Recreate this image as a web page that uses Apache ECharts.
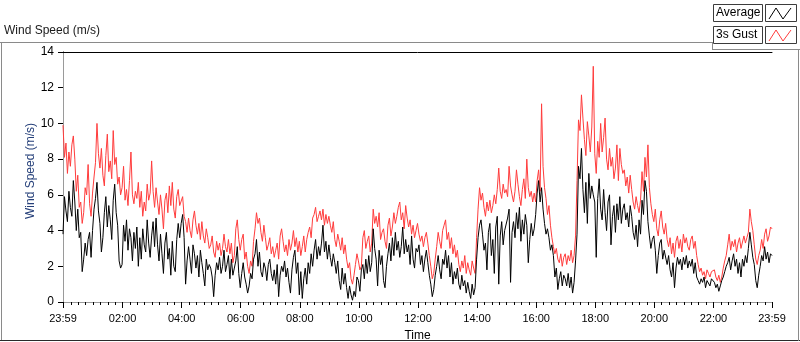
<!DOCTYPE html>
<html>
<head>
<meta charset="utf-8">
<script src="https://cdn.jsdelivr.net/npm/echarts@6/dist/echarts.min.js"></script>
<style>
html,body{margin:0;padding:0;background:#fff;}
#chart{width:800px;height:342px;}
</style>
</head>
<body>
<div id="chart"></div>
<script>
// ---- data (sampled every 3 minutes, starting 23:59) ----
const stepMinutes = 3;
const seriesNames = ['Average', '3s Gust'];
const avgSpeed = [
3.8,5.9,5.1,4.5,6.2,5.3,4.8,6.8,5.6,4.0,5.2,3.6,3.9,1.7,2.4,3.3,2.6,3.5,3.9,2.5,
4.0,5.2,5.8,6.7,5.1,4.4,2.8,3.6,5.0,5.9,4.2,5.4,4.6,3.5,5.7,6.6,5.0,4.3,2.3,1.9,
2.1,4.3,3.4,4.6,2.9,4.1,3.6,2.3,3.9,3.0,4.2,2.0,3.6,2.4,4.1,3.2,2.8,4.6,3.3,2.5,
3.7,4.5,3.1,4.7,3.2,2.3,3.8,2.7,1.6,3.3,3.9,2.4,3.0,1.5,3.4,2.0,1.7,3.5,4.4,3.6,
4.4,4.9,3.6,1.0,2.3,3.1,2.4,1.6,3.2,2.7,1.9,2.6,1.4,2.9,2.2,1.6,0.9,2.4,1.8,2.1,
1.9,1.4,0.3,1.5,2.2,1.8,2.5,1.6,2.0,2.9,1.7,2.1,2.6,1.3,2.4,1.5,1.9,2.3,3.1,1.6,
0.8,1.6,2.2,1.4,1.0,0.5,0.9,1.6,1.3,2.4,2.7,3.5,2.0,2.8,1.7,1.4,2.2,1.9,1.2,2.1,
2.4,1.6,1.2,1.8,1.0,2.1,0.3,1.5,2.0,1.7,2.3,1.4,1.9,1.1,0.5,1.8,2.5,2.9,1.6,2.2,
0.4,1.7,0.2,1.3,1.9,1.0,2.2,1.6,2.7,2.0,2.9,3.5,2.4,3.1,2.6,3.3,4.3,2.8,3.4,2.4,
3.2,2.5,2.0,2.7,2.2,1.6,2.3,1.2,0.7,1.9,1.0,1.6,0.8,0.2,0.9,0.4,0.1,0.6,0.3,1.4,
1.2,0.6,1.8,2.1,1.3,2.4,1.6,2.6,1.7,2.2,4.1,3.0,2.4,0.9,2.9,2.1,2.6,1.2,0.8,2.0,
2.7,3.3,2.3,3.6,2.6,3.9,2.9,3.4,2.5,3.1,4.2,2.7,3.5,2.8,3.2,2.1,3.7,2.4,1.9,3.0,
2.8,3.2,2.1,2.6,1.7,2.4,2.9,2.2,1.5,1.0,0.3,0.7,1.5,2.0,2.6,1.8,1.3,2.4,2.1,2.9,
1.9,2.6,1.4,2.2,1.0,1.7,1.3,1.9,1.0,0.7,1.5,0.9,1.2,0.5,1.1,0.6,0.2,1.0,0.4,0.8,
2.4,3.6,4.3,4.6,3.8,2.9,3.3,1.8,3.9,4.4,2.6,3.5,1.6,4.2,4.8,1.0,3.7,4.5,3.2,4.0,
4.0,4.7,5.2,1.1,3.9,4.5,3.6,5.0,4.1,5.3,3.4,4.6,3.8,4.9,4.3,2.2,3.5,4.4,3.7,4.1,
4.9,6.1,6.8,5.6,6.4,5.2,4.4,3.8,4.1,3.6,2.9,3.2,2.6,1.4,1.9,0.7,1.3,1.7,0.9,1.5,
1.3,0.9,1.6,0.8,1.4,0.5,1.1,2.3,3.8,7.6,6.9,8.6,6.3,5.0,6.7,4.4,7.2,5.8,6.5,6.0,
5.6,2.5,5.8,6.9,5.2,4.6,6.3,5.0,4.0,5.6,6.0,3.2,4.8,5.4,3.9,5.5,4.6,5.9,4.4,5.2,
5.5,4.6,5.0,4.2,5.4,4.8,3.9,3.5,4.3,3.1,4.6,3.8,5.7,4.9,6.8,6.2,4.5,3.7,3.0,3.5,
3.7,2.9,1.6,2.6,3.3,3.5,2.4,2.9,3.0,2.1,2.6,1.8,1.4,2.2,0.8,1.9,2.5,2.1,2.4,1.8,
2.5,2.1,2.6,1.9,2.3,2.0,2.4,1.6,2.2,1.4,1.2,1.0,1.3,1.1,1.4,0.8,1.2,1.3,0.9,1.3,
1.3,1.1,0.8,1.0,0.6,0.9,1.2,1.4,1.7,2.0,2.2,2.5,1.8,2.3,2.7,2.0,2.4,1.6,2.2,1.4,
2.4,2.0,2.6,2.2,3.0,3.9,3.2,2.5,2.1,1.2,0.8,1.5,2.0,2.6,2.3,3.1,2.4,2.8,2.2,2.7,
2.6
];
const gustSpeed = [
9.9,8.1,8.9,7.2,8.4,7.6,8.8,9.3,8.0,6.2,7.1,5.3,5.6,4.4,5.0,6.4,6.0,7.7,5.5,4.8,
6.1,7.0,7.8,10.0,8.3,7.5,8.6,7.1,6.5,8.2,9.4,7.3,7.9,6.9,9.6,7.7,8.1,6.6,7.0,6.0,
6.4,7.6,5.7,6.3,5.4,6.8,8.4,6.0,5.5,6.2,5.8,6.7,5.3,6.2,4.8,5.6,5.1,6.6,5.7,6.1,
7.9,6.2,5.3,6.4,5.6,4.9,6.0,5.2,4.1,5.7,6.1,5.0,6.5,5.4,6.7,5.2,4.7,5.9,6.3,5.4,
5.5,5.9,4.8,4.5,3.9,4.7,4.0,3.6,4.6,5.1,4.3,3.8,4.4,3.5,4.5,3.7,3.3,4.1,3.6,3.0,
3.2,3.7,2.8,2.5,3.4,2.9,3.3,2.6,3.0,3.8,3.1,2.8,3.5,2.7,3.3,2.2,2.6,4.1,4.6,3.5,
2.9,3.5,3.8,2.4,2.8,2.0,1.6,2.3,2.0,3.4,4.1,5.0,4.4,4.7,3.9,3.4,4.3,3.6,2.9,3.2,
3.6,2.7,3.1,2.5,2.9,3.3,2.4,3.7,4.1,3.4,2.8,3.2,2.6,3.5,2.9,3.3,4.0,3.1,3.6,2.8,
3.4,2.6,3.1,3.7,2.8,3.5,3.9,4.2,3.6,4.7,4.9,5.3,4.5,4.8,5.1,4.6,5.2,4.3,4.9,4.4,
4.8,4.3,3.9,4.5,3.5,3.1,3.8,3.4,2.9,3.6,2.7,3.2,2.4,1.9,2.2,1.3,1.0,1.5,2.1,2.7,
2.3,1.8,2.0,3.6,4.0,3.0,3.4,3.7,2.8,3.3,5.2,4.4,4.8,4.2,5.0,3.5,3.9,4.1,3.4,3.0,
4.3,4.7,3.7,4.2,5.0,4.4,4.8,5.3,5.6,4.6,5.0,4.1,5.4,4.7,4.2,4.6,3.8,4.3,3.6,4.0,
4.4,3.8,3.4,3.7,3.1,3.6,3.9,3.3,2.6,2.0,1.3,1.6,2.4,3.1,3.9,3.4,3.0,4.0,4.3,4.6,
3.5,3.9,3.0,3.6,2.7,3.2,2.5,2.9,2.1,1.7,2.3,1.9,2.6,1.6,2.2,1.8,1.5,2.3,1.9,1.6,
3.6,5.2,6.4,5.7,6.1,5.3,4.8,5.6,5.1,5.7,5.0,5.4,6.0,5.5,6.3,7.5,6.2,5.8,6.6,6.1,
6.3,5.9,7.6,6.5,6.0,5.6,6.2,7.4,6.6,5.9,5.4,6.3,6.9,5.8,8.0,6.4,5.9,6.2,5.6,6.1,
5.6,6.8,7.4,6.2,11.1,7.6,6.4,5.8,4.9,5.4,4.3,3.6,3.1,2.7,3.0,2.4,2.2,2.7,2.0,2.5,
2.7,2.1,2.6,2.3,2.9,2.2,2.6,3.7,6.8,10.2,9.6,11.6,10.3,9.1,8.2,10.1,9.3,8.4,9.8,13.2,
8.3,7.2,9.0,8.1,10.0,8.4,9.2,10.3,8.0,7.4,8.6,7.6,8.1,6.9,7.5,8.8,6.8,8.6,7.7,7.2,
7.4,6.5,7.0,6.1,7.1,6.3,5.6,5.2,5.9,5.4,5.0,5.7,7.3,6.2,8.1,7.0,8.8,6.4,5.5,4.9,
4.5,5.2,4.1,3.7,4.6,5.1,4.2,3.8,4.4,3.5,3.1,3.6,2.7,3.3,2.5,3.4,3.7,3.0,3.5,2.8,
3.8,3.3,3.6,3.1,2.9,3.5,3.7,3.0,3.4,2.6,2.1,1.7,1.9,1.5,1.7,1.3,1.8,1.6,1.4,1.7,
1.6,1.8,1.4,1.2,1.5,1.1,1.4,1.9,2.3,2.6,3.2,3.8,2.9,3.4,3.1,3.5,2.8,3.3,3.6,3.0,
3.1,3.7,3.3,3.6,3.9,5.2,4.5,4.0,3.2,2.4,2.1,2.6,2.9,3.5,3.0,3.8,4.1,3.4,3.7,4.2,
4.1
];
// tick positions in minutes after 23:59 and their labels
const xTickMinutes = [0,121,241,361,481,601,721,841,961,1081,1201,1321,1440];
const xTickLabels = ['23:59','02:00','04:00','06:00','08:00','10:00','12:00','14:00','16:00','18:00','20:00','22:00','23:59'];

// minor ticks every 15 minutes on the clock
const minorTicks = [];
for (let m = 16; m < 1440; m += 15) { if (xTickMinutes.indexOf(m) < 0) minorTicks.push(m); }

const toPairs = arr => arr.map((v, i) => [i * stepMinutes, v]);

const font = 'Liberation Sans, Arial, sans-serif';
const chart = echarts.init(document.getElementById('chart'), null, {renderer: 'canvas'});

function swatch(y, color) {
  return {
    type: 'group',
    children: [
      {type: 'rect', shape: {x: 713.5, y: y + 0.5, width: 49, height: 17}, style: {fill: '#fff', stroke: '#3c3c3c', lineWidth: 1}},
      {type: 'rect', shape: {x: 765.5, y: y + 0.5, width: 31, height: 17}, style: {fill: '#fff', stroke: '#3c3c3c', lineWidth: 1}},
      {type: 'polyline', shape: {points: [[769, y + 15], [776, y + 4], [783, y + 15], [791, y + 4]]}, style: {stroke: color, lineWidth: 1, fill: null}}
    ]
  };
}

chart.setOption({
  animation: false,
  backgroundColor: '#fff',
  title: {
    text: 'Wind Speed (m/s)', left: 4, top: 25, padding: 0,
    textStyle: {fontFamily: font, fontSize: 12, fontWeight: 'normal', color: '#1a1a1a'}
  },
  grid: {left: 63, right: 28, top: 52, bottom: 40, outerBoundsMode: 'none'},
  graphic: [
    {type: 'line', shape: {x1: 0, y1: 42.5, x2: 712, y2: 42.5}, style: {stroke: '#8a8a8a', lineWidth: 1}},
    {type: 'line', shape: {x1: 1.5, y1: 42, x2: 1.5, y2: 341}, style: {stroke: '#8a8a8a', lineWidth: 1}},
    {type: 'line', shape: {x1: 0, y1: 340.5, x2: 800, y2: 340.5}, style: {stroke: '#2a2a2a', lineWidth: 1}},
    {type: 'line', shape: {x1: 712.5, y1: 42, x2: 712.5, y2: 49}, style: {stroke: '#8a8a8a', lineWidth: 1}},
    {type: 'line', shape: {x1: 712, y1: 49.5, x2: 800, y2: 49.5}, style: {stroke: '#8a8a8a', lineWidth: 1}},
    {type: 'line', shape: {x1: 798.5, y1: 49, x2: 798.5, y2: 341}, style: {stroke: '#8a8a8a', lineWidth: 1}},
    swatch(4, '#000000'),
    swatch(26, '#ff3c3c'),
    {type: 'text', x: 716, y: 13, style: {text: seriesNames[0], font: '12px ' + font, fill: '#000', textVerticalAlign: 'middle'}},
    {type: 'text', x: 716, y: 35, style: {text: seriesNames[1], font: '12px ' + font, fill: '#000', textVerticalAlign: 'middle'}}
  ],
  xAxis: [
    {
      type: 'value', min: 0, max: 1440, position: 'bottom', offset: 0,
      name: 'Time', nameLocation: 'middle', nameGap: 28, nameMoveOverlap: false,
      nameTextStyle: {fontFamily: font, fontSize: 12, color: '#000'},
      axisLine: {lineStyle: {color: '#9a9a9a', width: 1}},
      axisTick: {show: true, length: 6, customValues: xTickMinutes, lineStyle: {color: '#000'}},
      axisLabel: {customValues: xTickMinutes, margin: 11, fontFamily: font, fontSize: 11, color: '#000',
        formatter: v => { const k = xTickMinutes.indexOf(Math.round(v)); return k >= 0 ? xTickLabels[k] : ''; }},
      splitLine: {show: false}
    },
    {
      type: 'value', min: 0, max: 1440, position: 'bottom', offset: 0,
      axisLine: {show: false},
      axisTick: {show: true, length: 3, customValues: minorTicks, lineStyle: {color: '#000'}},
      axisLabel: {show: false}, splitLine: {show: false}
    },
    {
      type: 'value', min: 0, max: 1440, position: 'top',
      axisLine: {lineStyle: {color: '#000', width: 1}},
      axisTick: {show: false}, axisLabel: {show: false}, splitLine: {show: false}
    }
  ],
  yAxis: [
    {
      type: 'value', min: 0, max: 14, interval: 2, position: 'left',
      name: 'Wind Speed (m/s)', nameLocation: 'middle', nameGap: 26, nameMoveOverlap: false,
      nameTextStyle: {fontFamily: font, fontSize: 12, color: '#26407a', padding: [0, 0, 0, 12]},
      axisLine: {lineStyle: {color: '#000', width: 1}},
      axisTick: {show: true, length: 5, lineStyle: {color: '#000'}},
      axisLabel: {margin: 9, fontFamily: font, fontSize: 12, color: '#000'},
      splitLine: {show: false}
    },
    {
      type: 'value', min: 0, max: 14, position: 'right',
      axisLine: {show: true, lineStyle: {color: '#9a9a9a', width: 1}},
      axisTick: {show: false}, axisLabel: {show: false}, splitLine: {show: false}
    }
  ],
  series: [
    {
      name: seriesNames[1], type: 'line', xAxisIndex: 0, yAxisIndex: 0,
      data: toPairs(gustSpeed), showSymbol: false, symbol: 'none',
      lineStyle: {color: '#ff3c3c', width: 1}, itemStyle: {color: '#ff3c3c'}, z: 2
    },
    {
      name: seriesNames[0], type: 'line', xAxisIndex: 0, yAxisIndex: 0,
      data: toPairs(avgSpeed), showSymbol: false, symbol: 'none',
      lineStyle: {color: '#000000', width: 1}, itemStyle: {color: '#000'}, z: 3
    }
  ]
});
</script>
</body>
</html>
